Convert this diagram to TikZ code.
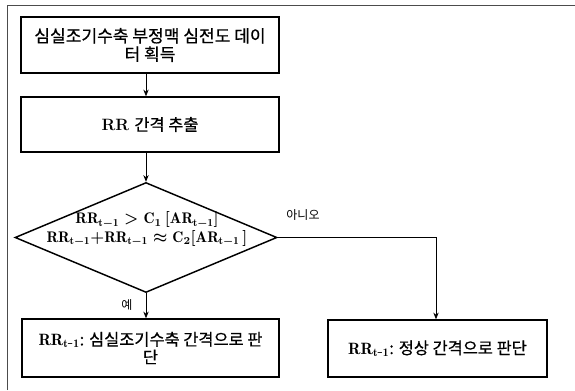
\documentclass[tikz,border=0pt]{standalone}
\usepackage{fontspec}
\newfontfamily\kr[FakeBold=0.6]{Noto Sans CJK KR}
\newfontfamily\krthin{Noto Sans CJK KR}
\usetikzlibrary{shapes.geometric,arrows.meta}
\begin{document}
\begin{tikzpicture}[x=0.75pt,y=-0.75pt,
  box/.style={draw,line width=1.1pt,inner sep=0pt,align=center,
    font=\fontsize{12.3}{12.3}\selectfont\boldmath},
  conn/.style={line width=0.6pt,-{Stealth[length=5pt,width=4pt]}},
  lbl/.style={inner sep=0pt,font=\krthin\fontsize{9}{9}\selectfont},
  frame/.style={line width=0.6pt,black!70}]
\useasboundingbox (0,0) rectangle (575,390);
\coordinate (fA) at (7,390);
\coordinate (fB) at (7,5);
\coordinate (fC) at (575,5);
\draw[frame] (fA) -- (fB) -- (fC);

\node[box,minimum width=193.5pt,minimum height=42pt,font=\fontsize{12.8}{12.8}\selectfont] (b1) at (150,45)
  {\kr 심실조기수축 부정맥 심전도 데이\\[1pt]\kr 터 획득};
\node[box,minimum width=193.5pt,minimum height=41.25pt] (b2) at (150,124.5)
  {\textbf{RR} {\kr 간격 추출}};
\node[diamond,draw,line width=1.1pt,inner sep=0pt,minimum width=196.5pt,
  minimum height=82.5pt] (dec) at (146,237.5) {};
\node[inner sep=0pt,align=center,font=\fontsize{11.5}{14}\selectfont\boldmath] (dtext) at (147,229)
  {$\mathrm{RR}_{\mathrm{t-1}} > \mathrm{C}_1\,[\mathrm{AR}_{\mathrm{t-1}}]$\\
   $\mathrm{RR}_{\mathrm{t-1}}{+}\mathrm{RR}_{\mathrm{t-1}} \approx \mathrm{C}_2[\mathrm{AR}_{\mathrm{t-1}}\,]$};
\node[box,minimum width=192.75pt,minimum height=43.5pt] (b3) at (150.5,348)
  {$\mathrm{RR}_{\mathrm{t\mbox{-}1}}$\kr: 심실조기수축 간격으로 판\\[1pt]\kr 단};
\node[box,minimum width=164.25pt,minimum height=42.75pt] (b4) at (437.5,348.5)
  {$\mathrm{RR}_{\mathrm{t\mbox{-}1}}$\kr: 정상 간격으로 판단};

\coordinate (turn) at (436,237.5);
\draw[conn] (b1.south -| dec) -- (b2.north -| dec);
\draw[conn] (b2.south -| dec) -- (dec.north);
\draw[conn] (dec.south) -- (b3.north -| dec);
\draw[conn] (dec.east) -- (turn) -- (b4.north -| turn);

\node[lbl] (no) at (303,215) {아니오};
\node[lbl] (yes) at (127,305) {예};
\end{tikzpicture}
\end{document}
